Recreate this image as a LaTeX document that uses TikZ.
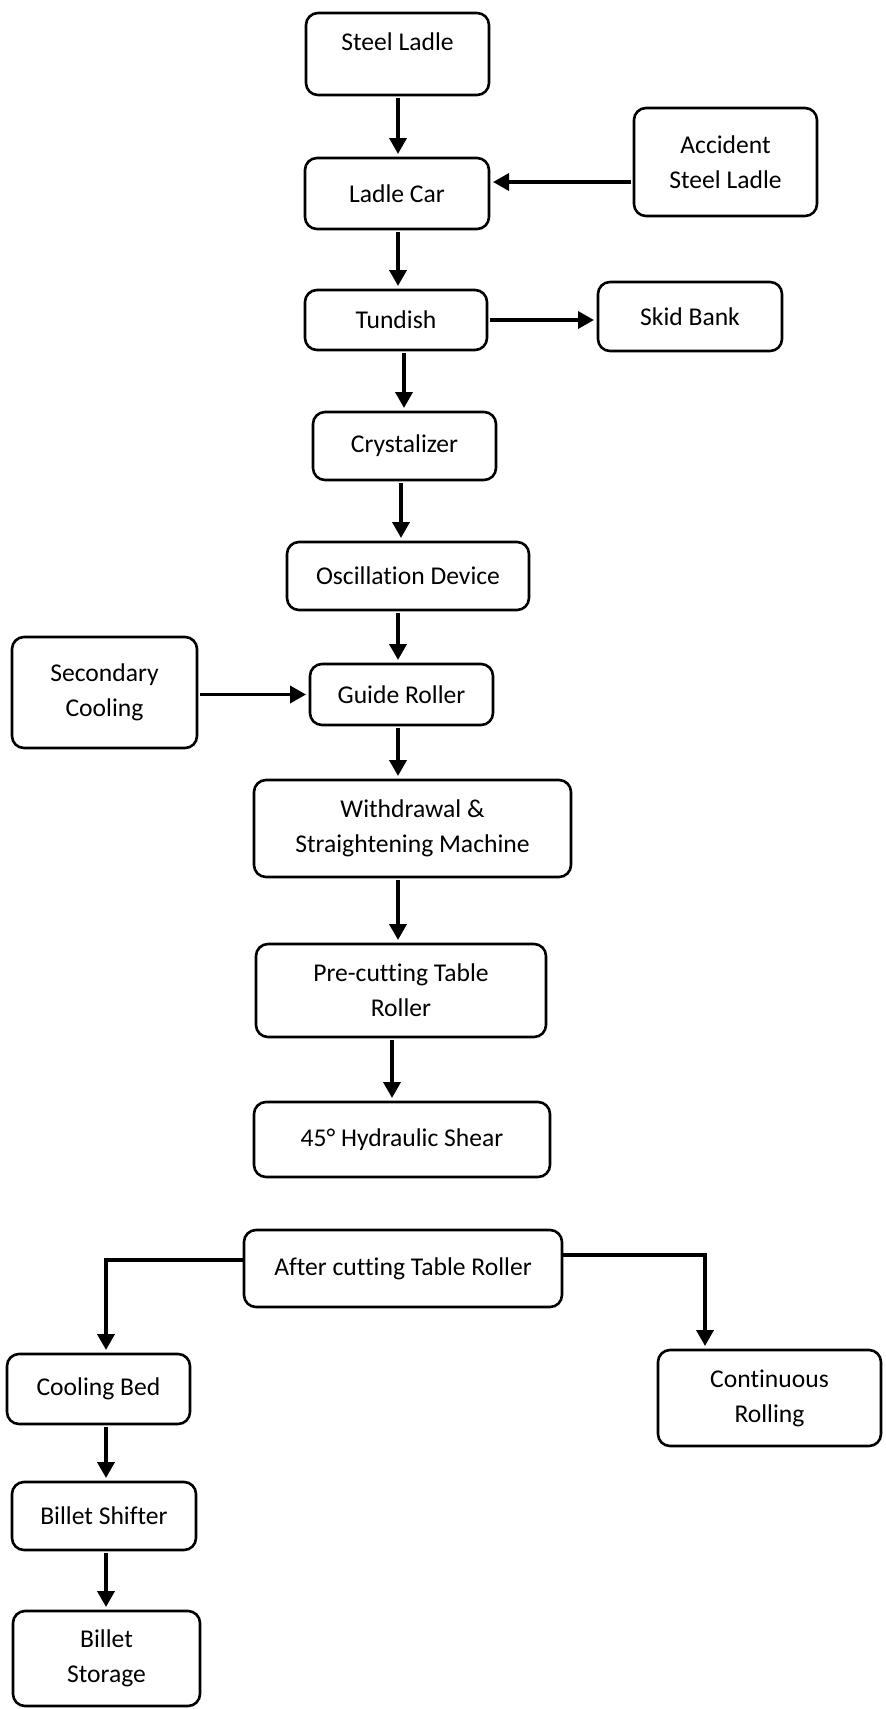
\documentclass[tikz,border=0pt]{standalone}
\usepackage{fontspec}
\setmainfont{Carlito}[Ligatures=NoCommon]
\usetikzlibrary{arrows.meta}

\tikzset{
    box/.style={draw, rounded corners=6pt, line width=1.3pt, align=center, inner sep=0pt, outer sep=0pt, font=\fontsize{12.8}{17.5}\selectfont},
    arr/.style={-{Triangle[length=8pt,width=8.5pt]}, line width=1.8pt, shorten <=1.5pt, shorten >=2pt}
}

\begin{document}
\begin{tikzpicture}[x=0.5pt, y=-0.5pt]
        \useasboundingbox (0,0) rectangle (886,1709);
        \coordinate (spine) at (398,0);
        \coordinate (lspine) at (106,0);
        \coordinate (rdrop) at (705,0);

        % casting line
        \node[box, minimum width=91.5pt, minimum height=41pt, text depth=12pt] at (397.5,54) (ladle) {Steel Ladle};
        \node[box, minimum width=92pt, minimum height=35.5pt] at (397,193.5) (car) {Ladle Car};
        \node[box, minimum width=91.5pt, minimum height=54pt] at (725.5,162) (accident) {Accident\\Steel Ladle};
        \node[box, minimum width=91pt, minimum height=30pt] at (396,320) (tundish) {Tundish};
        \node[box, minimum width=92pt, minimum height=34.5pt] at (690,316.5) (skid) {Skid Bank};
        \node[box, minimum width=91.5pt, minimum height=34pt] at (404.5,446) (crystal) {Crystalizer};
        \node[box, minimum width=121pt, minimum height=34pt] at (408,576) (osc) {Oscillation Device};
        \node[box, minimum width=91.5pt, minimum height=30.5pt] at (401.5,694.5) (guide) {Guide Roller};
        \node[box, minimum width=92.5pt, minimum height=55.5pt] at (104.5,692.5) (secondary) {Secondary\\Cooling};
        \node[box, minimum width=158.5pt, minimum height=48.5pt] at (412.5,828.5) (withdraw) {Withdrawal \&\\Straightening Machine};
        \node[box, minimum width=145pt, minimum height=46.5pt] at (401,990.5) (precut) {Pre-cutting Table\\Roller};
        \node[box, minimum width=148pt, minimum height=37.5pt] at (402,1139.5) (shear) {45° Hydraulic Shear};

        \draw[arr] (ladle.south -| spine) -- (car.north -| spine);
        \draw[arr] ([yshift=-10pt]accident.west) -- ([yshift=-10pt]accident.west -| car.east);
        \draw[arr] (car.south -| spine) -- (tundish.north -| spine);
        \draw[arr] (tundish.east) -- (skid.west |- tundish.east);
        \draw[arr] ([xshift=3pt]tundish.south -| spine) -- ([xshift=3pt]crystal.north -| spine);
        \draw[arr] ([xshift=1.5pt]crystal.south -| spine) -- ([xshift=1.5pt]osc.north -| spine);
        \draw[arr] (osc.south -| spine) -- (guide.north -| spine);
        \draw[arr] (secondary.east |- guide.west) -- (guide.west);
        \draw[arr] (guide.south -| spine) -- (withdraw.north -| spine);
        \draw[arr] (withdraw.south -| spine) -- (precut.north -| spine);
        \draw[arr] ([xshift=-3pt]precut.south -| spine) -- ([xshift=-3pt]shear.north -| spine);

        % after cutting
        \node[box, minimum width=159pt, minimum height=38.5pt] at (403,1268.5) (after) {After cutting Table Roller};
        \node[box, minimum width=91.5pt, minimum height=35pt] at (98.5,1389) (cooling) {Cooling Bed};
        \node[box, minimum width=111.5pt, minimum height=48pt] at (769.5,1398) (continuous) {Continuous\\Rolling};
        \node[box, minimum width=92pt, minimum height=34pt] at (104,1516) (shifter) {Billet Shifter};
        \node[box, minimum width=93.5pt, minimum height=47.5pt] at (106.5,1658.5) (storage) {Billet\\Storage};

        \draw[arr, shorten <=0pt] ([yshift=4.25pt]after.west) -| (lspine |- cooling.north);
        \draw[arr, shorten <=0pt] ([yshift=6.75pt]after.east) -| (rdrop |- continuous.north);
        \draw[arr] (cooling.south -| lspine) -- (shifter.north -| lspine);
        \draw[arr] (shifter.south -| lspine) -- (storage.north -| lspine);
    \end{tikzpicture}
\end{document}
